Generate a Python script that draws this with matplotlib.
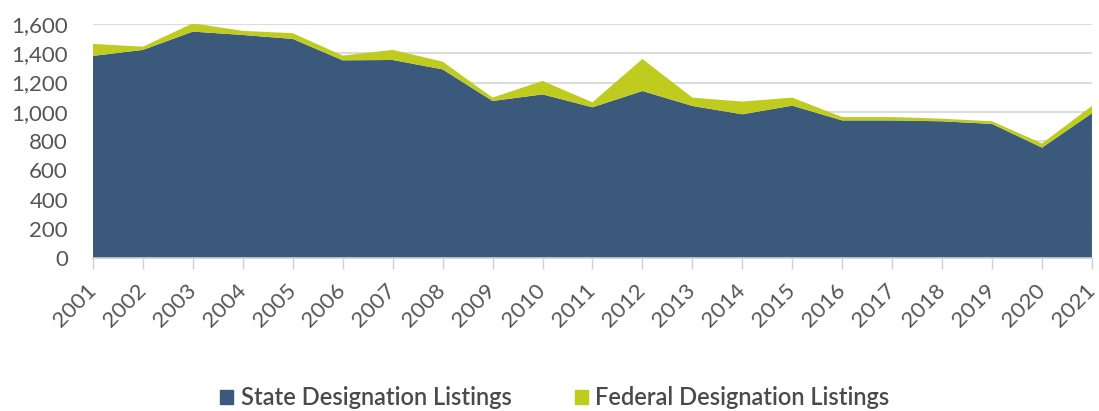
import matplotlib
matplotlib.use("Agg")
import matplotlib.pyplot as plt
import matplotlib.transforms as mtransforms
from matplotlib.patches import Patch

# Listings per year
years = list(range(2001, 2022))
state_listings = [1382, 1423, 1548, 1525, 1498, 1352, 1354, 1290, 1074, 1119, 1031,
                  1142, 1040, 983, 1042, 941, 941, 935, 917, 755, 990]
federal_listings = [82, 22, 57, 28, 39, 32, 69, 53, 23, 92, 34,
                    219, 57, 87, 55, 23, 23, 18, 18, 29, 50]
y_ticks = [0, 200, 400, 600, 800, 1000, 1200, 1400, 1600]

state_color = "#3b5a7b"
federal_color = "#bfcc1f"
text_color = "#555555"

plt.rcParams["font.family"] = ["Lato", "DejaVu Sans"]

fig = plt.figure(figsize=(10.99, 4.11), dpi=100)
ax = fig.add_axes([0.0846, 0.372, 0.909, 0.5696])

ax.stackplot(years, state_listings, federal_listings,
             colors=[state_color, federal_color], zorder=2)

ax.set_xlim(years[0], years[-1])
ax.set_ylim(0, 1600)
ax.set_yticks(y_ticks)
ax.set_yticklabels([f"{v:,}" for v in y_ticks])
ax.set_xticks(years)
ax.set_xticklabels([str(y) for y in years], rotation=45, ha="right",
                   va="center", rotation_mode="anchor")

# nudge year labels a little to the right, like the original
shift = mtransforms.ScaledTranslation(6 / 72, 0, fig.dpi_scale_trans)
for lbl in ax.get_xticklabels():
    lbl.set_transform(lbl.get_transform() + shift)

ax.grid(axis="y", color="#dcdcdc", linewidth=1.5, zorder=0)
ax.set_axisbelow(True)
for side in ["top", "right", "left"]:
    ax.spines[side].set_visible(False)
ax.spines["bottom"].set_color("#c8d0da")
ax.spines["bottom"].set_linewidth(1.2)

ax.tick_params(axis="y", length=0, pad=18, labelsize=16, labelcolor=text_color)
ax.tick_params(axis="x", length=8, width=1, color="#d0d0d0", pad=13,
               labelsize=16, labelcolor=text_color)

handles = [Patch(color=state_color, label="State Designation Listings"),
           Patch(color=federal_color, label="Federal Designation Listings")]
fig.legend(handles=handles, loc="center", bbox_to_anchor=(0.505, 0.032),
           ncol=2, frameon=False, handlelength=0.55, handleheight=0.55,
           handletextpad=0.3, columnspacing=2.7,
           labelcolor="#4a4a4a", prop={"weight": "semibold", "size": 17})

fig.savefig("out.png", dpi=100)
